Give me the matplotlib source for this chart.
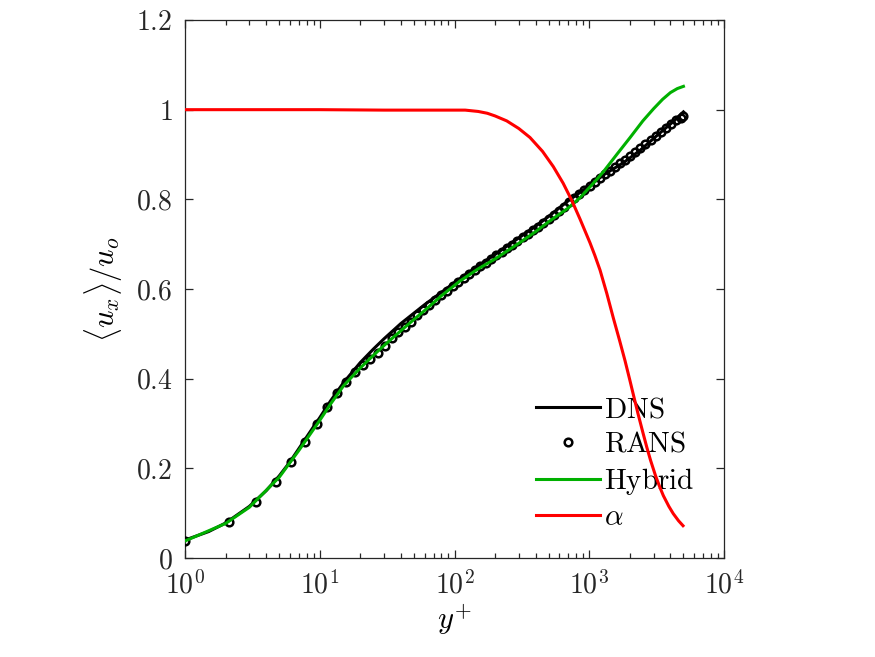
import math
import matplotlib
matplotlib.use("Agg")
import matplotlib.pyplot as plt
from matplotlib.ticker import FuncFormatter, LogLocator, FixedLocator, NullFormatter

plt.rcParams['mathtext.fontset'] = 'cm'
plt.rcParams['font.family'] = ['cmr10', 'DejaVu Sans']
plt.rcParams['axes.unicode_minus'] = False

# ---- data ----
dns_y = [1, 1.5, 2, 3, 4, 5, 6, 7, 8, 9, 10, 12, 15, 20, 25, 30, 40, 60, 100,
         110, 150, 200, 300, 400, 500, 700, 1000, 1300, 1800, 2400, 3200, 4000,
         4600, 5000]
dns_u = [0.040, 0.059, 0.078, 0.115, 0.150, 0.183, 0.214, 0.244, 0.270, 0.293,
         0.313, 0.350, 0.391, 0.436, 0.466, 0.489, 0.523, 0.565, 0.614, 0.623,
         0.651, 0.677, 0.714, 0.740, 0.762, 0.797, 0.830, 0.856, 0.882, 0.910,
         0.943, 0.968, 0.984, 0.995]

rans_y = [1.00, 2.13, 3.36, 4.70, 6.17, 7.76, 9.50, 11.40, 13.46, 15.71, 18.17,
          20.84, 23.76, 26.94, 30.40, 34.18, 38.30, 42.78, 47.67, 53.00, 58.81,
          65.14, 72.04, 79.56, 87.76, 96.70, 106.44, 117.06, 128.64, 141.25,
          155.01, 170.00, 186.33, 204.14, 223.56, 244.72, 267.78, 292.92,
          320.32, 350.19, 382.75, 418.23, 456.91, 499.07, 545.03, 595.12,
          649.72, 709.24, 774.11, 844.82, 921.89, 1005.9, 1097.5, 1197.3,
          1306.1, 1424.7, 1553.9, 1694.8, 1848.4, 2015.8, 2198.3, 2397.2,
          2613.9, 2850.2, 3107.8, 3388.5, 3694.5, 4028.1, 4391.6, 4787.9, 5000]
rans_u = [0.039, 0.081, 0.126, 0.170, 0.215, 0.259, 0.299, 0.336, 0.367, 0.393,
          0.414, 0.430, 0.444, 0.458, 0.472, 0.490, 0.503, 0.515, 0.527, 0.541,
          0.553, 0.565, 0.576, 0.586, 0.596, 0.606, 0.616, 0.625, 0.634, 0.643,
          0.651, 0.659, 0.667, 0.675, 0.683, 0.691, 0.699, 0.707, 0.715, 0.723,
          0.731, 0.739, 0.748, 0.757, 0.766, 0.775, 0.784, 0.793, 0.802, 0.811,
          0.820, 0.829, 0.838, 0.847, 0.856, 0.864, 0.872, 0.880, 0.888, 0.897,
          0.906, 0.915, 0.924, 0.933, 0.942, 0.951, 0.960, 0.968, 0.976, 0.982,
          0.985]

hyb_y = [1, 2, 3, 5, 7, 10, 12, 15, 20, 25, 30, 40, 50, 60, 80, 110, 150, 200,
         300, 400, 500, 700, 850, 1000, 1150, 1300, 1600, 2000, 2500, 3000,
         3500, 4000, 4500, 5000]
hyb_u = [0.038, 0.077, 0.113, 0.180, 0.240, 0.307, 0.343, 0.384, 0.424, 0.452,
         0.474, 0.507, 0.532, 0.552, 0.585, 0.618, 0.645, 0.667, 0.702, 0.728,
         0.750, 0.781, 0.803, 0.826, 0.846, 0.865, 0.900, 0.937, 0.975, 1.002,
         1.023, 1.038, 1.047, 1.052]

alpha_y = [1, 3, 10, 30, 60, 100, 120, 150, 175, 200, 244, 300, 363, 450, 541,
           640, 741, 854, 1013, 1100, 1203, 1350, 1510, 1680, 1843, 2000, 2122,
           2300, 2500, 2668, 2850, 3100, 3350, 3548, 3900, 4200, 4600, 4965]
alpha_v = [1.0, 1.0, 1.0, 0.999, 0.999, 0.999, 0.999, 0.996, 0.992, 0.986,
           0.975, 0.958, 0.938, 0.907, 0.873, 0.836, 0.798, 0.756, 0.703, 0.675,
           0.642, 0.590, 0.535, 0.485, 0.440, 0.397, 0.365, 0.322, 0.280, 0.248,
           0.218, 0.184, 0.157, 0.139, 0.115, 0.099, 0.083, 0.072]

xticks = [1, 10, 100, 1000, 10000]
yticks = [0, 0.2, 0.4, 0.6, 0.8, 1.0, 1.2]

# ---- plot ----
fig = plt.figure(figsize=(8.75, 6.57), dpi=100)
ax = fig.add_axes([185/875, 99/657, 539/875, 538/657])

green = '#00b000'
ax.plot(dns_y, dns_u, color='k', lw=2.2, label=r'$\mathrm{DNS}$', zorder=3)
ax.plot(rans_y, rans_u, ls='none', marker='o', ms=5.5, mfc='none', mec='k',
        mew=1.8, label=r'$\mathrm{RANS}$', zorder=4)
ax.plot(hyb_y, hyb_u, color=green, lw=2.2, label=r'$\mathrm{Hybrid}$', zorder=5)
ax.plot(alpha_y, alpha_v, color='#ff0000', lw=2.2, label=r'$\alpha$', zorder=6)

ax.set_xscale('log')
ax.set_xlim(1, 1e4)
ax.set_ylim(0, 1.2)
ax.xaxis.set_major_locator(FixedLocator(xticks))
ax.xaxis.set_major_formatter(FuncFormatter(lambda v, p: r'$10^{%d}$' % round(math.log10(v))))
ax.xaxis.set_minor_locator(LogLocator(base=10, subs=range(2, 10), numticks=20))
ax.xaxis.set_minor_formatter(NullFormatter())
ax.yaxis.set_major_locator(FixedLocator(yticks))
ax.yaxis.set_major_formatter(FuncFormatter(lambda v, p: r'$%g$' % v))

spine_c = '#262626'
for s in ax.spines.values():
    s.set_color(spine_c)
    s.set_linewidth(0.9)
ax.tick_params(which='both', direction='in', top=True, right=True, colors=spine_c,
               labelcolor='#262626', width=0.9)
ax.tick_params(which='major', length=6, labelsize=20, pad=9)
ax.tick_params(which='minor', length=3.5)

ax.set_xlabel(r'$y^{+}$', fontsize=22, labelpad=2)
ax.set_ylabel(r'$\langle u_x \rangle / u_o$', fontsize=22, labelpad=8)

leg = ax.legend(loc='lower right', bbox_to_anchor=(0.946, 0.050), frameon=False,
                fontsize=21, handlelength=2.2, handletextpad=0.15,
                labelspacing=0.27, borderpad=0, borderaxespad=0)

fig.savefig('out.png', dpi=100)
